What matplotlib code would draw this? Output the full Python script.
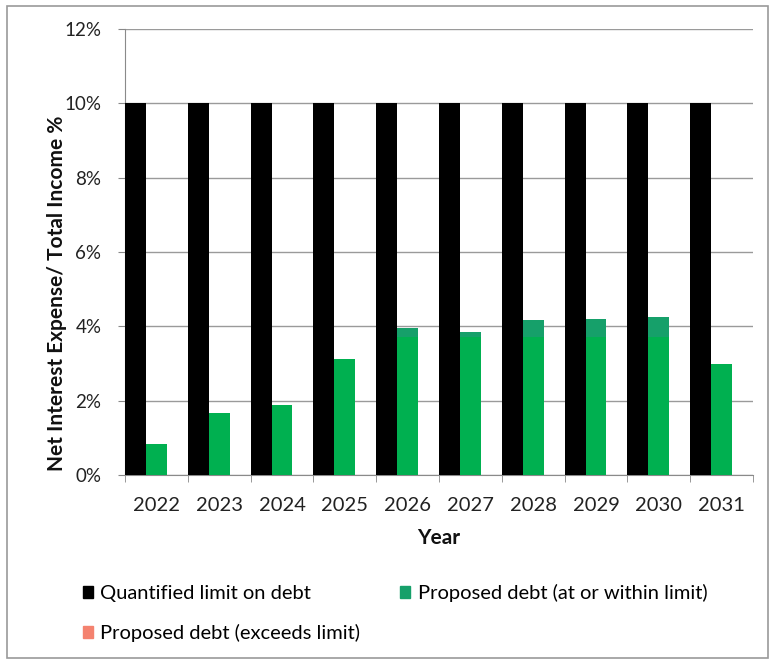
import numpy as np
import matplotlib
matplotlib.use("Agg")
from matplotlib import pyplot as plt
from matplotlib.patches import Patch, Rectangle

years = ['2022', '2023', '2024', '2025', '2026', '2027', '2028', '2029', '2030', '2031']
limit = [10, 10, 10, 10, 10, 10, 10, 10, 10, 10]
proposed = [0.84, 1.67, 1.87, 3.12, 3.96, 3.86, 4.17, 4.21, 4.24, 2.99]
exceeds = [0, 0, 0, 0, 0, 0, 0, 0, 0, 0]
cap_from = 3.7  # upper part of the green bars is drawn darker in the source

plt.rcParams['font.family'] = ['Lato', 'DejaVu Sans']

fig = plt.figure(figsize=(7.69, 6.6), dpi=100)
ax = fig.add_axes([125/769, 1 - 475/660, (753 - 125)/769, (475 - 29)/660])

x = np.arange(len(years))
w = 1/3
prop = np.array(proposed)
base = np.minimum(prop, cap_from)
cap = prop - base

ax.bar(x - w, limit, w, color='black', zorder=3)
ax.bar(x, base, w, color='#00b050', zorder=3)
ax.bar(x, cap, w, bottom=base, color='#16a06a', zorder=3)
ax.bar(x + w, exceeds, w, color='#f4826f', zorder=3)

ax.set_xlim(-0.5, len(years) - 0.5)
ax.set_ylim(0, 12)
ax.set_yticks(np.arange(0, 13, 2))
ax.set_yticklabels([f'{v}%' for v in range(0, 13, 2)])
ax.set_xticks(x)
ax.set_xticklabels(years)
ax.set_xticks(np.arange(-0.5, len(years), 1), minor=True)
ax.tick_params(axis='x', which='major', length=0, labelsize=14.5, pad=16, labelcolor='#222222')
ax.tick_params(axis='x', which='minor', length=5, color='#888888', direction='out')
ax.tick_params(axis='y', length=5, color='#888888', labelcolor='#222222', labelsize=13.5, pad=12)

ax.grid(axis='y', color='#9a9a9a', linewidth=1, zorder=0)
for s in ['top', 'right']:
    ax.spines[s].set_visible(False)
for s in ['left', 'bottom']:
    ax.spines[s].set_color('#8a8a8a')

ax.set_xlabel('Year', fontsize=15, fontweight='bold', labelpad=10, color='#111111')
ax.set_ylabel('Net Interest Expense/ Total Income %', fontsize=15, fontweight='bold', color='#111111')
ax.yaxis.set_label_coords((67 - 125)/628, (475 - 293)/446)

handles = [Patch(color='black'), Patch(color='#f4826f'), Patch(color='#16a06a')]
labels = ['Quantified limit on debt', 'Proposed debt (exceeds limit)', 'Proposed debt (at or within limit)']
fig.legend(handles, labels, ncol=2, loc='upper left', bbox_to_anchor=(83/769, 1 - 584/660),
           frameon=False, fontsize=14.5, handlelength=0.5, handleheight=0.5, handletextpad=0.35,
           labelspacing=1.1, columnspacing=2.0, borderpad=0, borderaxespad=0)

fig.patches.append(Rectangle((7/769, 2/660), 1 - 8/769, 1 - 8/660, transform=fig.transFigure,
                             fill=False, edgecolor='#9a9a9a', linewidth=1.2))

fig.savefig('out.png', dpi=100)
